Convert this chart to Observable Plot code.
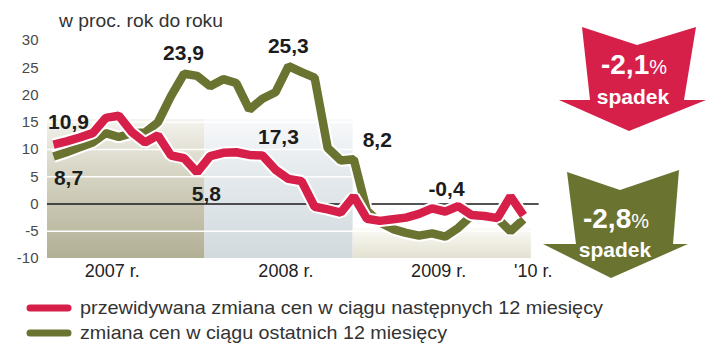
<!DOCTYPE html>
<html><head><meta charset="utf-8">
<script src="https://cdn.jsdelivr.net/npm/d3@7"></script>
<script src="https://cdn.jsdelivr.net/npm/@observablehq/plot@0.6"></script>
<style>
body{margin:0;background:#fff;}
#wrap{position:relative;width:721px;height:358px;overflow:hidden;}
#wrap > svg{display:block;}
#overlay{position:absolute;left:0;top:0;}
</style></head><body><div id="wrap"></div>
<script>
// ---- data ----
const seriesNames = ["przewidywana zmiana cen w ciągu następnych 12 miesięcy", "zmiana cen w ciągu ostatnich 12 miesięcy"];
const seriesColors = ["#d6204a", "#6b7331"];
// monthly, Jan 2007 .. Jan 2010
const redValues = [10.9, 11.5, 12.2, 13.0, 15.8, 16.2, 13.2, 11.3, 12.6, 8.9, 8.4, 5.8,
  8.8, 9.4, 9.5, 9.0, 8.9, 6.3, 4.6, 4.2, -0.5, -1.0, -1.6, 1.4,
  -2.7, -3.1, -2.8, -2.5, -1.8, -0.8, -1.4, -0.4, -2.0, -2.2, -2.6, 1.4,
  -2.1];
const greenValues = [8.7, 9.5, 10.4, 11.3, 13.0, 12.3, 13.0, 13.1, 15.0, 19.8, 23.9, 23.5,
  21.6, 22.9, 22.2, 17.3, 19.3, 20.5, 25.3, 24.2, 23.2, 10.3, 8.0, 8.2,
  -1.2, -3.4, -4.6, -5.3, -5.8, -5.4, -6.0, -4.4, -2.2, -2.5, -2.6, -5.0,
  -2.8];
const yTicks = [-10, -5, 0, 5, 10, 15, 20, 25, 30];
const gridValues = [15, 10, 5, -5];
const yearLabels = ["2007 r.", "2008 r.", "2009 r.", "'10 r."];
const yearLabelPos = [4.5, 17.8, 29.5, 36.75];
const annoText = ["10,9", "8,7", "23,9", "25,3", "17,3", "5,8", "8,2", "-0,4"];
const annoX = [1.15, 1.15, 9.96, 17.99, 17.23, 11.71, 24.8, 30.1];
const annoY = [14.95, 4.8, 27.6, 28.9, 12.2, 1.74, 11.65, 2.66];
const bandYears = ["2007", "2008", "2009"];
const bandStart = [-0.46, 11.6, 22.95];
const bandEnd = [11.6, 22.95, 36.6];
const bandTop = [15.5, 15.5, -4.5];
const arrowValues = ["-2,1", "-2,8"];
const arrowWord = "spadek";
const titleText = "w proc. rok do roku";

// ---- build ----
const data = redValues.map((v, i) => ({i, red: v, green: greenValues[i]}));
const grads = {
  "2007": [["0%", "#f4f3ed"], ["35%", "#d9d7c7"], ["100%", "#b1af94"]],
  "2008": [["0%", "#f8f9fa"], ["35%", "#e6ebee"], ["100%", "#d2dadd"]],
  "2009": [["0%", "#fbfaf6"], ["100%", "#e3e1d0"]]
};

const defs = () => {
  const d = d3.create("svg:defs");
  for (const y of bandYears) {
    const g = d.append("linearGradient").attr("id", "g" + y).attr("x1", 0).attr("y1", 0).attr("x2", 0).attr("y2", 1);
    for (const [o, c] of grads[y]) g.append("stop").attr("offset", o).attr("stop-color", c);
  }
  return d.node();
};

const bandMarks = bandYears.map((y, k) =>
  Plot.rect([{x1: bandStart[k], x2: bandEnd[k], y1: -10, y2: bandTop[k]}],
    {x1: "x1", x2: "x2", y1: "y1", y2: "y2", fill: `url(#g${y})`}));

const font = "'Liberation Sans', Arial, sans-serif";

const chart = Plot.plot({
  width: 721, height: 285,
  marginLeft: 53, marginRight: 198, marginTop: 40, marginBottom: 27,
  x: {domain: [0, 36], axis: null},
  y: {domain: [-10, 30], axis: null},
  style: {fontFamily: font, background: "transparent", overflow: "visible"},
  marks: [
    defs,
    ...bandMarks,
    Plot.ruleY(gridValues, {x1: -0.46, x2: 37.2, stroke: "white", strokeWidth: 1.5}),
    Plot.ruleY([0], {x1: -0.46, x2: 37.2, stroke: "#1a1a1a", strokeWidth: 1.6}),
    Plot.axisY(yTicks, {tickSize: 0, tickPadding: 15, fontSize: 15, fill: "#4a4a4a", tickFormat: d => String(d)}),
    Plot.line(data, {x: "i", y: "green", stroke: "white", strokeWidth: 12.5, strokeLinejoin: "miter", strokeLinecap: "butt"}),
    Plot.line(data, {x: "i", y: "green", stroke: seriesColors[1], strokeWidth: 8.5, strokeLinejoin: "miter", strokeLinecap: "butt"}),
    Plot.line(data, {x: "i", y: "red", stroke: "white", strokeWidth: 12.5, strokeLinejoin: "miter", strokeLinecap: "butt"}),
    Plot.line(data, {x: "i", y: "red", stroke: seriesColors[0], strokeWidth: 8.5, strokeLinejoin: "miter", strokeLinecap: "butt"}),
    Plot.text(annoText.map((t, k) => ({t, x: annoX[k], y: annoY[k]})),
      {x: "x", y: "y", text: "t", fontSize: 21, fontWeight: "bold", fill: "#1c1c1c"}),
    Plot.text(yearLabels.map((t, k) => ({t, x: yearLabelPos[k]})),
      {x: "x", y: -10, text: "t", dy: 13, fontSize: 18, fill: "#222"})
  ]
});
document.getElementById("wrap").appendChild(chart);

// ---- overlay: title, arrows, legend ----
const ov = d3.select("#wrap").append("svg").attr("id", "overlay")
  .attr("width", 721).attr("height", 358).style("font-family", font);

ov.append("text").attr("x", 59).attr("y", 27).attr("font-size", 19).attr("fill", "#333")
  .attr("textLength", 164).attr("lengthAdjust", "spacingAndGlyphs").text(titleText);

const arrows = [
  {pts: [[582,27],[637,45],[696,27],[684,100],[706,100],[629,131],[559,100],[590,100]], color: seriesColors[0], cx: 634, y1: 74, y2: 104},
  {pts: [[567,172],[620,190],[679,170],[673,244],[688,244],[611,278],[543,244],[576,244]], color: seriesColors[1], cx: 616, y1: 228, y2: 257}
];
arrows.forEach((a, k) => {
  ov.append("polygon").attr("points", a.pts.map(p => p.join(",")).join(" ")).attr("fill", a.color);
  const t = ov.append("text").attr("x", a.cx).attr("y", a.y1).attr("text-anchor", "middle").attr("fill", "white");
  t.append("tspan").attr("font-size", 28).attr("font-weight", "bold").text(arrowValues[k]);
  t.append("tspan").attr("font-size", 20).text("%");
  ov.append("text").attr("x", a.cx - 1).attr("y", a.y2).attr("text-anchor", "middle").attr("fill", "white")
    .attr("font-size", 21).attr("font-weight", "bold").text(arrowWord);
});

const legY = [308, 333];
const legLen = [523, 367];
seriesNames.forEach((name, k) => {
  ov.append("line").attr("x1", 30).attr("x2", 68).attr("y1", legY[k]).attr("y2", legY[k])
    .attr("stroke", seriesColors[k]).attr("stroke-width", 7).attr("stroke-linecap", "round");
  ov.append("text").attr("x", 80).attr("y", legY[k] + 6).attr("font-size", 19).attr("fill", "#333")
    .attr("textLength", legLen[k]).attr("lengthAdjust", "spacingAndGlyphs").text(name);
});
</script>
</body></html>
